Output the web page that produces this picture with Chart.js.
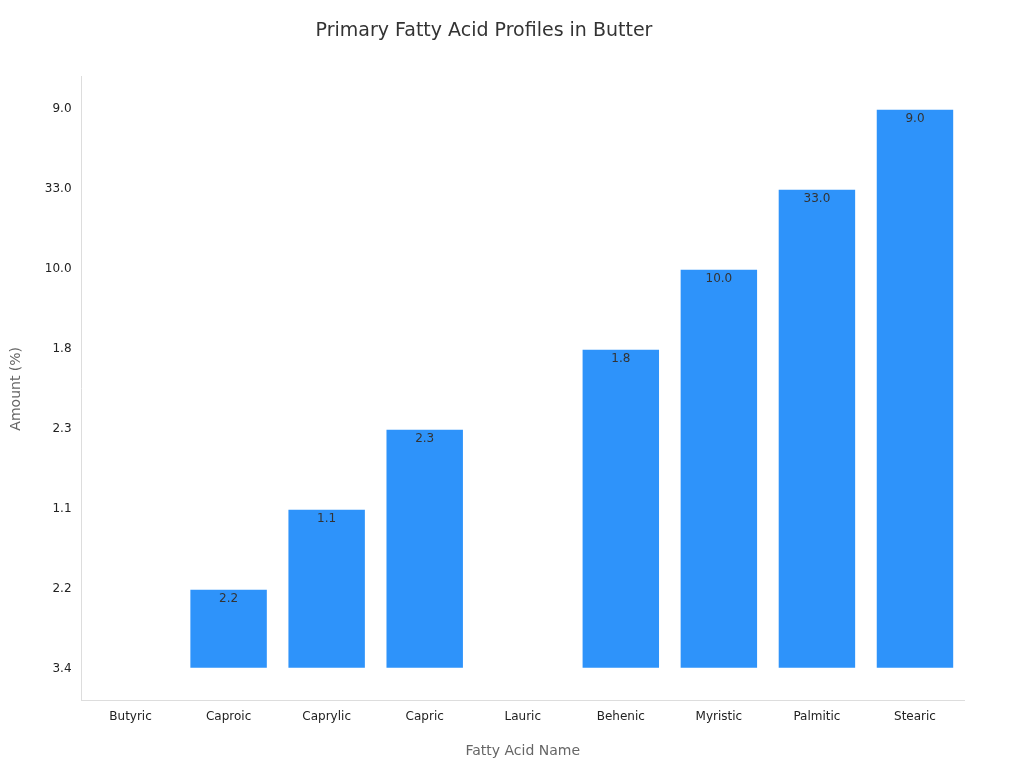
<!DOCTYPE html>
<html>
<head>
<meta charset="utf-8">
<script src="https://cdn.jsdelivr.net/npm/chart.js@4"></script>
<style>
  html, body { margin: 0; background: #fff; }
  #wrap { width: 1024px; height: 768px; }
</style>
</head>
<body>
<div id="wrap"><canvas id="fattyChart"></canvas></div>
<script>
const acids = ['Butyric', 'Caproic', 'Caprylic', 'Capric', 'Lauric', 'Behenic', 'Myristic', 'Palmitic', 'Stearic'];
// y axis in the source is categorical, bottom to top
const yLabels = ['3.4', '2.2', '1.1', '2.3', '1.8', '10.0', '33.0', '9.0'];
const amounts = ['3.4', '2.2', '1.1', '2.3', null, '1.8', '10.0', '33.0', '9.0'];

const barData = amounts.map(v => v === null ? null : [0, yLabels.indexOf(v)]);

const valueLabels = {
    id: 'valueLabels',
    afterDatasetsDraw(chart) {
        const ctx = chart.ctx;
        const meta = chart.getDatasetMeta(0);
        ctx.save();
        ctx.font = '12px "DejaVu Sans"';
        ctx.fillStyle = '#333';
        ctx.textAlign = 'center';
        ctx.textBaseline = 'top';
        meta.data.forEach((bar, i) => {
            const v = amounts[i];
            if (v === null || yLabels.indexOf(v) === 0) return;
            ctx.fillText(v, bar.x, bar.y + 4);
        });
        ctx.restore();
    }
};

new Chart(document.getElementById('fattyChart').getContext('2d'), {
    type: 'bar',
    data: {
        labels: acids,
        datasets: [{
            data: barData,
            backgroundColor: '#2E93FA',
            borderColor: '#ffffff',
            borderWidth: 1,
            borderSkipped: false,
            barPercentage: 0.8,
            categoryPercentage: 1.0
        }]
    },
    options: {
        responsive: true,
        maintainAspectRatio: false,
        animation: false,
        layout: { padding: { left: 4, right: 60, top: 10, bottom: 4 } },
        plugins: {
            legend: { display: false },
            tooltip: { enabled: false },
            title: {
                display: true,
                text: 'Primary Fatty Acid Profiles in Butter',
                color: '#333',
                font: { family: 'DejaVu Sans', size: 19, weight: 'normal' },
                padding: { top: 10, bottom: 34 }
            }
        },
        scales: {
            x: {
                grid: { display: false, drawTicks: false },
                border: { color: '#ddd' },
                ticks: { color: '#222', font: { family: 'DejaVu Sans', size: 12 }, padding: 9 },
                title: {
                    display: true, text: 'Fatty Acid Name', color: '#666',
                    font: { family: 'DejaVu Sans', size: 14 }, padding: { top: 10 }
                }
            },
            y: {
                min: -0.4,
                max: 7.4,
                grid: { display: false, drawTicks: false },
                border: { color: '#ddd' },
                ticks: {
                    stepSize: 1,
                    includeBounds: false,
                    color: '#222',
                    font: { family: 'DejaVu Sans', size: 12 },
                    padding: 10,
                    callback: v => Number.isInteger(v) ? yLabels[v] : ''
                },
                title: {
                    display: true, text: 'Amount (%)', color: '#666',
                    font: { family: 'DejaVu Sans', size: 14 }, padding: { bottom: 10 }
                }
            }
        }
    },
    plugins: [valueLabels]
});
</script>
</body>
</html>
